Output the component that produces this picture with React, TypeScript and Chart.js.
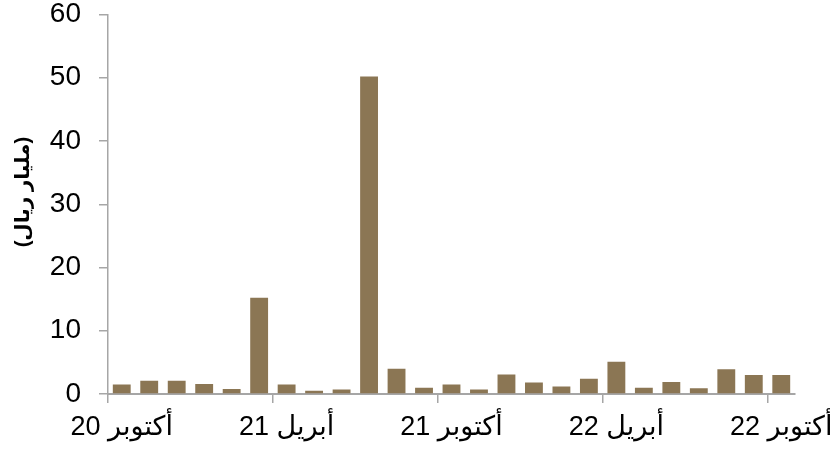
import React, { useEffect, useRef } from "react";
import { Chart, registerables } from "chart.js";

Chart.register(...registerables);

const categories: string[] = [
  "أكتوبر 20", "نوفمبر 20", "ديسمبر 20", "يناير 21", "فبراير 21", "مارس 21",
  "أبريل 21", "مايو 21", "يونيو 21", "يوليو 21", "أغسطس 21", "سبتمبر 21",
  "أكتوبر 21", "نوفمبر 21", "ديسمبر 21", "يناير 22", "فبراير 22", "مارس 22",
  "أبريل 22", "مايو 22", "يونيو 22", "يوليو 22", "أغسطس 22", "سبتمبر 22",
  "أكتوبر 22",
];

const values: number[] = [
  1.5, 2.1, 2.1, 1.6, 0.8, 15.2, 1.5, 0.5, 0.7, 50.2, 4.0, 1.0, 1.5,
  0.7, 3.1, 1.8, 1.2, 2.4, 5.1, 1.0, 1.9, 0.9, 3.9, 3.0, 3.0,
];

const yTicks = { min: 0, max: 60, step: 10 };
const labelEvery = 6;
const yTitle = "(مليار ريال)";

const FONT = "Arial, 'Liberation Sans', 'DejaVu Sans', sans-serif";
const AXIS = "#a6a6a6";
const BAR = "#8b7654";

export default function App() {
  const ref = useRef<HTMLCanvasElement | null>(null);

  useEffect(() => {
    if (!ref.current) return;
    const titlePlugin = {
      id: "yTitlePlugin",
      afterDraw(chart: any) {
        const { ctx, chartArea } = chart;
        ctx.save();
        ctx.translate(chartArea.left - 85, chartArea.top + (chartArea.bottom - chartArea.top) * 0.468);
        ctx.rotate(-Math.PI / 2);
        ctx.font = `bold 20px ${FONT}`;
        ctx.fillStyle = "#000";
        ctx.textAlign = "center";
        ctx.textBaseline = "middle";
        ctx.fillText(yTitle, 0, 0);
        ctx.restore();
      },
    };
    const chart = new Chart(ref.current, {
      type: "bar",
      data: {
        labels: categories,
        datasets: [
          {
            data: values,
            backgroundColor: BAR,
            borderWidth: 0,
            barPercentage: 1,
            categoryPercentage: 0.65,
          },
        ],
      },
      options: {
        animation: false,
        responsive: true,
        maintainAspectRatio: false,
        layout: { padding: { left: 0, right: 35, top: 14.5, bottom: 0 } },
        plugins: {
          legend: { display: false },
          tooltip: { enabled: false },
          title: { display: false },
        },
        scales: {
          x: {
            grid: {
              offset: true,
              drawOnChartArea: false,
              drawTicks: true,
              tickLength: 9,
              lineWidth: 1.5,
              color: (ctx: any) => (ctx.index !== undefined && ctx.index % labelEvery === 0 ? AXIS : "rgba(0,0,0,0)"),
            },
            border: { display: true, color: AXIS, width: 2 },
            ticks: {
              autoSkip: false,
              maxRotation: 0,
              minRotation: 0,
              padding: 8,
              color: "#000",
              font: { family: FONT, size: 27 },
              callback: function (this: any, val: any, index: number) {
                return index % labelEvery === 0 ? this.getLabelForValue(val) : "";
              },
            },
            afterFit: (scale: any) => {
              scale.paddingLeft = 0;
              scale.paddingRight = 0;
              scale.height = 56;
            },
          },
          y: {
            min: yTicks.min,
            max: yTicks.max,
            grid: {
              drawOnChartArea: false,
              drawTicks: true,
              tickLength: 9,
              lineWidth: 1.5,
              color: AXIS,
            },
            border: { display: true, color: AXIS, width: 1.5 },
            ticks: {
              stepSize: yTicks.step,
              padding: 18,
              color: "#000",
              font: { family: FONT, size: 28 },
            },
            afterFit: (scale: any) => {
              scale.paddingTop = 0;
              scale.paddingBottom = 0;
              scale.width = 108;
            },
          },
        },
      },
      plugins: [titlePlugin],
    });
    return () => chart.destroy();
  }, []);

  return (
    <div style={{ position: "absolute", left: 0, top: 0, width: 830, height: 450 }}>
      <canvas ref={ref} style={{ display: "block" }} />
    </div>
  );
}
